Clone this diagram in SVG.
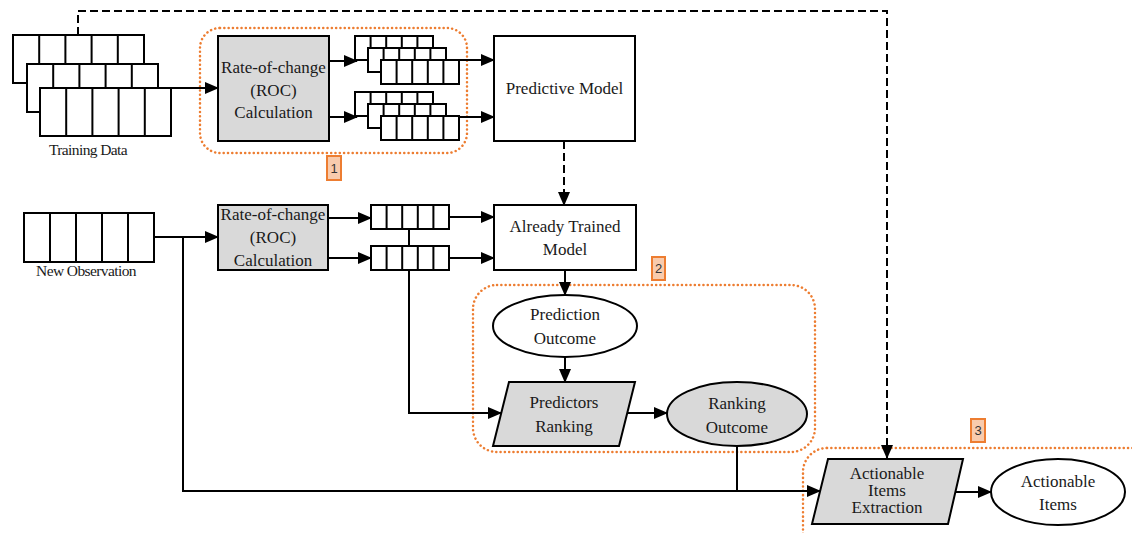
<svg xmlns="http://www.w3.org/2000/svg" xmlns:xlink="http://www.w3.org/1999/xlink" width="1132" height="533" viewBox="0 0 1132 533">
<style>
.box{fill:#fff;stroke:#000;stroke-width:2}
.gray{fill:#d9d9d9;stroke:#000;stroke-width:2}
.cell{fill:none;stroke:#000;stroke-width:2}
.t{font-family:'Liberation Serif','DejaVu Serif',serif;font-size:17px;fill:#1a1a1a;text-anchor:middle}
.ts{font-family:'Liberation Serif','DejaVu Serif',serif;font-size:15.5px;fill:#1a1a1a;text-anchor:middle;letter-spacing:-0.6px}
.grp{fill:none;stroke:#ed7d31;stroke-width:2.5;stroke-dasharray:0.1 4.2;stroke-linecap:round}
.lab{fill:#f8cbad;stroke:#ed7d31;stroke-width:2}
.labt{font-family:'Liberation Sans',Arial,sans-serif;font-size:13px;fill:#333;text-anchor:middle}
.ln{fill:none;stroke:#000;stroke-width:2}
.dash{fill:none;stroke:#000;stroke-width:2;stroke-dasharray:8 4}
</style>
<defs>
<marker id="ah" markerUnits="userSpaceOnUse" markerWidth="14" markerHeight="12" refX="13" refY="6" orient="auto">
<path d="M0,0 L14,6 L0,12 z" fill="#000"/>
</marker>
<g id="bigrow">
<rect class="box" x="0" y="0" width="131" height="48"/>
<path class="cell" d="M26.2,0V48M52.4,0V48M78.6,0V48M104.8,0V48"/>
</g>
<g id="smallrow">
<rect class="box" x="0" y="0" width="78" height="24"/>
<path class="cell" d="M15.6,0V24M31.2,0V24M46.8,0V24M62.4,0V24"/>
</g>
</defs>

<!-- group outlines -->
<g id="groups">
<rect class="grp" x="200" y="28" width="267" height="125" rx="20"/>
<rect class="grp" x="473" y="285" width="342" height="167" rx="24"/>
<rect class="grp" x="803" y="448" width="360" height="130" rx="24"/>
<g id="label1"><rect class="lab" x="327" y="156" width="14" height="24"/><text class="labt" x="334" y="173">1</text></g>
<g id="label2"><rect class="lab" x="652" y="257" width="13" height="23"/><text class="labt" x="658.5" y="273">2</text></g>
<g id="label3"><rect class="lab" x="971" y="419" width="14" height="23"/><text class="labt" x="978" y="435">3</text></g>
</g>

<!-- connectors -->
<g id="connectors">
<path class="dash" d="M78,35 V11 H887 V458" marker-end="url(#ah)"/>
<path class="ln" d="M171,88 H218" marker-end="url(#ah)"/>
<path class="ln" d="M329,61 H357" marker-end="url(#ah)"/>
<path class="ln" d="M329,117 H357" marker-end="url(#ah)"/>
<path class="ln" d="M459,60 H494" marker-end="url(#ah)"/>
<path class="ln" d="M459,117 H494" marker-end="url(#ah)"/>
<path class="dash" d="M564,141 V205" marker-end="url(#ah)"/>
<path class="ln" d="M154,237 H218" marker-end="url(#ah)"/>
<path class="ln" d="M183,237 V491 H820" marker-end="url(#ah)"/>
<path class="ln" d="M328,218 H371" marker-end="url(#ah)"/>
<path class="ln" d="M328,258 H371" marker-end="url(#ah)"/>
<path class="ln" d="M449,217 H494" marker-end="url(#ah)"/>
<path class="ln" d="M449,258 H494" marker-end="url(#ah)"/>
<path class="ln" d="M409,229 V246"/>
<path class="ln" d="M409,270 V413 H501" marker-end="url(#ah)"/>
<path class="ln" d="M565,270 V295" marker-end="url(#ah)"/>
<path class="ln" d="M565,357 V382" marker-end="url(#ah)"/>
<path class="ln" d="M627,413 H667" marker-end="url(#ah)"/>
<path class="ln" d="M737,446 V491 H820"/>
<path class="ln" d="M955,492 H991" marker-end="url(#ah)"/>
</g>

<g id="training-data">
<use xlink:href="#bigrow" x="13" y="35"/>
<use xlink:href="#bigrow" x="27" y="64"/>
<use xlink:href="#bigrow" x="40" y="88"/>
<text class="ts" x="88" y="155">Training Data</text>
</g>

<g id="roc1">
<rect class="gray" x="218" y="36" width="111" height="105"/>
<text class="t" x="273.5" y="73">Rate-of-change</text>
<text class="t" x="273.5" y="96">(ROC)</text>
<text class="t" x="273.5" y="118">Calculation</text>
</g>

<g id="roc-arrays-1">
<use xlink:href="#smallrow" x="355" y="36"/>
<use xlink:href="#smallrow" x="368" y="48"/>
<use xlink:href="#smallrow" x="381" y="60"/>
</g>
<g id="roc-arrays-2">
<use xlink:href="#smallrow" x="355" y="92"/>
<use xlink:href="#smallrow" x="368" y="104"/>
<use xlink:href="#smallrow" x="381" y="116"/>
</g>

<g id="predictive-model">
<rect class="box" x="494" y="36" width="141" height="105"/>
<text class="t" x="564.5" y="94">Predictive Model</text>
</g>

<g id="new-observation">
<rect class="box" x="24" y="213" width="130" height="49"/>
<path class="cell" d="M50,213V262M76,213V262M102,213V262M128,213V262"/>
<text class="ts" x="86" y="276">New Observation</text>
</g>

<g id="roc2">
<rect class="gray" x="218" y="205" width="110" height="65"/>
<text class="t" x="273" y="220">Rate-of-change</text>
<text class="t" x="273" y="243">(ROC)</text>
<text class="t" x="273" y="266">Calculation</text>
</g>

<g id="obs-array-1"><use xlink:href="#smallrow" x="371" y="205"/></g>
<g id="obs-array-2"><use xlink:href="#smallrow" x="371" y="246"/></g>

<g id="trained-model">
<rect class="box" x="494" y="205" width="142" height="65"/>
<text class="t" x="565" y="232">Already Trained</text>
<text class="t" x="565" y="255">Model</text>
</g>

<g id="prediction-outcome">
<ellipse class="box" cx="565" cy="326" rx="72" ry="31"/>
<text class="t" x="565" y="320">Prediction</text>
<text class="t" x="565" y="344">Outcome</text>
</g>

<g id="predictors-ranking">
<path class="gray" d="M509,382 H635 L619,446 H493 Z"/>
<text class="t" x="564" y="408">Predictors</text>
<text class="t" x="564" y="432">Ranking</text>
</g>

<g id="ranking-outcome">
<ellipse class="gray" cx="737" cy="414" rx="70" ry="32"/>
<text class="t" x="737" y="409">Ranking</text>
<text class="t" x="737" y="433">Outcome</text>
</g>

<g id="actionable-extraction">
<path class="gray" d="M828,459 H963 L948,524 H812 Z"/>
<text class="t" x="887" y="479">Actionable</text>
<text class="t" x="887" y="496">Items</text>
<text class="t" x="887" y="513">Extraction</text>
</g>

<g id="actionable-items">
<ellipse class="box" cx="1058" cy="492" rx="67" ry="33"/>
<text class="t" x="1058" y="487">Actionable</text>
<text class="t" x="1058" y="510">Items</text>
</g>
</svg>
